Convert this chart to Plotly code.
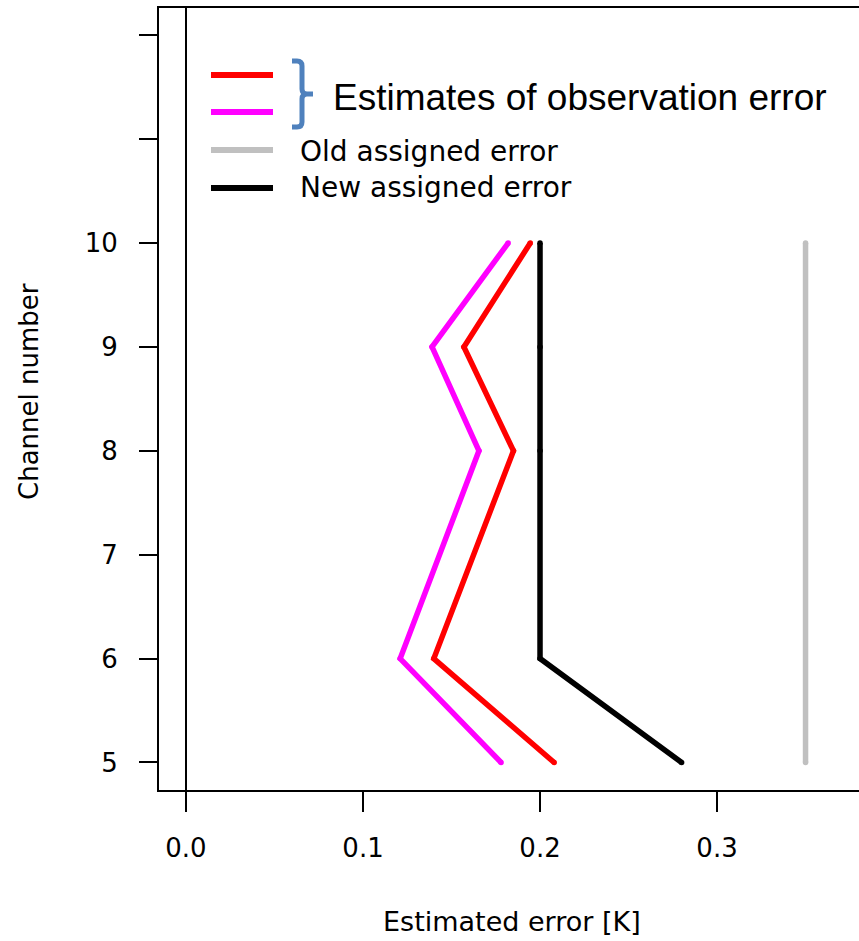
import plotly.graph_objects as go

# ---- data ----
channels = [10, 9, 8, 6, 5]
red_est = [0.1945, 0.157, 0.185, 0.140, 0.208]
magenta_est = [0.182, 0.139, 0.1655, 0.121, 0.178]
new_assigned = [0.200, 0.200, 0.200, 0.200, 0.280]
old_channels = [10, 5]
old_assigned = [0.350, 0.350]

y_tickvals = [5, 6, 7, 8, 9, 10, 11, 12]
y_ticktext = ["5", "6", "7", "8", "9", "10", "", ""]
x_tickvals = [0.0, 0.1, 0.2, 0.3]
x_ticktext = ["0.0", "0.1", "0.2", "0.3"]

W, H = 859, 941
L, R, T, B = 159, 0, 8, 151
pw, ph = W - L - R, H - T - B

def px(xp):
    return (xp - L) / pw

def py(yp):
    return (H - B - yp) / ph

RFONT = "DejaVu Sans"
LW = 5.5

fig = go.Figure()

def add_line(xs, ys, color):
    fig.add_trace(go.Scatter(
        x=xs, y=ys, mode="lines+markers",
        line=dict(color=color, width=LW),
        marker=dict(color=color, size=LW, line=dict(width=0)),
        showlegend=False, hoverinfo="skip"))

add_line(old_assigned, old_channels, "#c0c0c0")
add_line(new_assigned, channels, "#000000")
add_line(red_est, channels, "#ff0000")
add_line(magenta_est, channels, "#ff00ff")

# ---- custom legend ----
shapes = []
for ypix, col in [(75, "#ff0000"), (112, "#ff00ff"), (150, "#c0c0c0"), (188, "#000000")]:
    shapes.append(dict(type="line", xref="paper", yref="paper",
                       x0=px(211), x1=px(273), y0=py(ypix), y1=py(ypix),
                       line=dict(color=col, width=6)))

def P(x, y):
    return f"{px(x):.5f},{py(y):.5f}"

brace = (f"M{P(292,61)} L{P(297,61)} Q{P(302,61)} {P(302,66)} L{P(302,89)} "
         f"Q{P(302,94)} {P(307,94)} L{P(313,94)} M{P(307,94)} Q{P(302,94)} {P(302,99)} "
         f"L{P(302,122)} Q{P(302,127)} {P(297,127)} L{P(292,127)}")
shapes.append(dict(type="path", xref="paper", yref="paper", path=brace,
                   line=dict(color="rgb(79,129,189)", width=5)))

annotations = [
    dict(text="Estimates of observation error", xref="paper", yref="paper",
         x=px(331), y=py(98), xanchor="left", yanchor="middle", showarrow=False,
         font=dict(family="Liberation Sans", size=37, color="black")),
    dict(text="Old assigned error", xref="paper", yref="paper",
         x=px(298), y=py(151), xanchor="left", yanchor="middle", showarrow=False,
         font=dict(family=RFONT, size=28, color="black")),
    dict(text="New assigned error", xref="paper", yref="paper",
         x=px(298), y=py(188), xanchor="left", yanchor="middle", showarrow=False,
         font=dict(family=RFONT, size=28, color="black")),
    dict(text="Estimated error [K]", xref="paper", yref="paper",
         x=px(512), y=py(921), xanchor="center", yanchor="middle", showarrow=False,
         font=dict(family=RFONT, size=27, color="black")),
    dict(text="Channel number", xref="paper", yref="paper", textangle=-90,
         x=px(28.5), y=py(391.5), xanchor="center", yanchor="middle", showarrow=False,
         font=dict(family=RFONT, size=26, color="black")),
]

fig.update_layout(
    width=W, height=H,
    margin=dict(l=L, r=R, t=T, b=B, pad=0),
    paper_bgcolor="white", plot_bgcolor="white",
    showlegend=False,
    shapes=shapes, annotations=annotations,
    xaxis=dict(range=[-0.01525, 0.3802], tickvals=x_tickvals, ticktext=x_ticktext,
               ticks="outside", ticklen=20, tickwidth=2, tickcolor="black",
               showline=True, linecolor="black", linewidth=2, mirror=True,
               showgrid=False, zeroline=True, zerolinecolor="black", zerolinewidth=1.5,
               ticklabelstandoff=14,
               tickfont=dict(family=RFONT, size=26, color="black")),
    yaxis=dict(range=[4.735, 12.262], tickvals=y_tickvals, ticktext=y_ticktext,
               ticks="outside", ticklen=18, tickwidth=2, tickcolor="black",
               showline=True, linecolor="black", linewidth=2,
               showgrid=False, zeroline=False,
               ticklabelstandoff=16,
               tickfont=dict(family=RFONT, size=26, color="black")),
)

fig.write_html("out.html")
